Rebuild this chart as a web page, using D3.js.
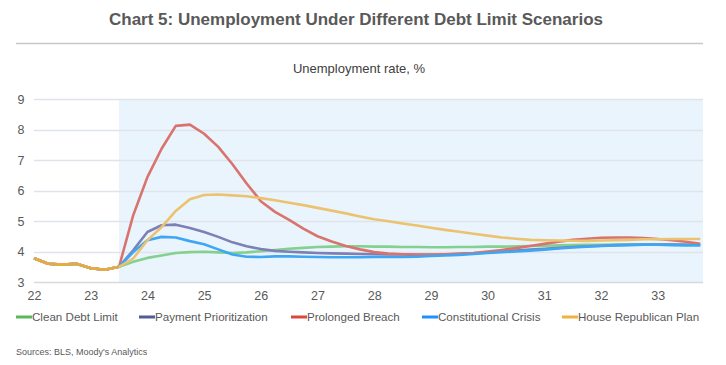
<!DOCTYPE html>
<html>
<head>
<meta charset="utf-8">
<script src="https://cdn.jsdelivr.net/npm/d3@7"></script>
<style>
  body { margin: 0; background: #fff; }
  text { font-family: "Liberation Sans", Arial, sans-serif; }
</style>
</head>
<body>
<script>
// quarterly points, 2022Q1 .. 2033Q4, x value = year (yy) + quarter offset
var startYear = 22;
var yearTicks = [22, 23, 24, 25, 26, 27, 28, 29, 30, 31, 32, 33];
var yTicks = [3, 4, 5, 6, 7, 8, 9];
var forecastStart = 23.5;

// actuals 22Q1 .. 23Q3 (shared by all scenarios)
var actuals = [3.78, 3.6, 3.57, 3.6, 3.45, 3.4, 3.5];

// scenarios 23Q4 .. 33Q4
var cleanDebt = [3.66, 3.79, 3.87, 3.95, 3.98, 3.99, 3.97, 3.95, 3.97, 4.01, 4.05, 4.09, 4.12, 4.15, 4.16, 4.17, 4.17, 4.16, 4.16, 4.15, 4.15, 4.14, 4.14, 4.15, 4.15, 4.16, 4.16, 4.17, 4.18, 4.19, 4.2, 4.21, 4.22, 4.22, 4.23, 4.23, 4.23, 4.23, 4.23, 4.23, 4.23];
var paymentPrior = [4.04, 4.64, 4.86, 4.88, 4.77, 4.64, 4.48, 4.3, 4.17, 4.08, 4.02, 3.99, 3.97, 3.95, 3.94, 3.93, 3.92, 3.91, 3.9, 3.9, 3.89, 3.89, 3.9, 3.92, 3.94, 3.97, 4.0, 4.03, 4.06, 4.09, 4.12, 4.15, 4.17, 4.19, 4.21, 4.22, 4.23, 4.23, 4.23, 4.22, 4.22];
var prolongedBreach = [5.19, 6.44, 7.37, 8.12, 8.16, 7.86, 7.43, 6.86, 6.23, 5.65, 5.3, 5.04, 4.75, 4.5, 4.33, 4.18, 4.07, 3.98, 3.93, 3.91, 3.9, 3.9, 3.91, 3.93, 3.95, 4.0, 4.05, 4.11, 4.18, 4.25, 4.32, 4.38, 4.42, 4.45, 4.46, 4.46, 4.44, 4.41, 4.37, 4.32, 4.25];
var constCrisis = [3.98, 4.37, 4.48, 4.46, 4.34, 4.24, 4.07, 3.9, 3.83, 3.82, 3.84, 3.84, 3.83, 3.82, 3.81, 3.81, 3.81, 3.82, 3.82, 3.82, 3.83, 3.85, 3.87, 3.89, 3.92, 3.95, 3.98, 4.0, 4.03, 4.06, 4.1, 4.13, 4.16, 4.18, 4.2, 4.21, 4.22, 4.22, 4.21, 4.2, 4.2];
var houseRep = [3.77, 4.37, 4.8, 5.33, 5.71, 5.85, 5.87, 5.84, 5.81, 5.75, 5.68, 5.6, 5.52, 5.43, 5.34, 5.25, 5.15, 5.06, 4.99, 4.92, 4.85, 4.78, 4.71, 4.65, 4.58, 4.52, 4.46, 4.42, 4.38, 4.37, 4.36, 4.35, 4.35, 4.36, 4.37, 4.38, 4.4, 4.4, 4.41, 4.41, 4.41];

var seriesNames = ["Clean Debt Limit", "Payment Prioritization", "Prolonged Breach", "Constitutional Crisis", "House Republican Plan"];
var seriesValues = [cleanDebt, paymentPrior, prolongedBreach, constCrisis, houseRep];
var lineColors = ["#84d08e", "#7d80b6", "#d8736e", "#3fa6f3", "#ebc26f"];
var legendColors = ["#5cb85c", "#525a9a", "#d9483b", "#1e90ff", "#f2b03c"];

var W = 726, H = 365;
var plot = { left: 34, right: 703, top: 99, bottom: 282 };

var svg = d3.select("body").append("svg")
  .attr("width", W)
  .attr("height", H);

// ~56.7px per year
var x = d3.scaleLinear()
  .domain([22, 22 + (plot.right - plot.left) / 56.7])
  .range([plot.left, plot.right]);

var y = d3.scaleLinear()
  .domain([3, 9])
  .range([plot.bottom, plot.top]);

// title
svg.append("text")
  .attr("x", 356).attr("y", 25)
  .attr("text-anchor", "middle")
  .attr("font-size", 17).attr("font-weight", "bold")
  .attr("fill", "#595959")
  .text("Chart 5: Unemployment Under Different Debt Limit Scenarios");

svg.append("line")
  .attr("x1", 16).attr("x2", 703)
  .attr("y1", 43.5).attr("y2", 43.5)
  .attr("stroke", "#c8c8c8").attr("stroke-width", 1.5);

svg.append("text")
  .attr("x", 359).attr("y", 73)
  .attr("text-anchor", "middle")
  .attr("font-size", 13)
  .attr("fill", "#404040")
  .text("Unemployment rate, %");

// forecast shading
svg.append("rect")
  .attr("x", x(forecastStart)).attr("y", plot.top)
  .attr("width", plot.right - x(forecastStart))
  .attr("height", plot.bottom - plot.top)
  .attr("fill", "#eaf4fd");

// grid
svg.append("g").selectAll("line")
  .data(yTicks)
  .join("line")
  .attr("x1", plot.left).attr("x2", plot.right)
  .attr("y1", function(d) { return Math.round(y(d)) + 0.5; })
  .attr("y2", function(d) { return Math.round(y(d)) + 0.5; })
  .attr("stroke", function(d) { return d == 3 ? "#d6d9dd" : "#dfe4ea"; })
  .attr("stroke-width", 1.3);

// y labels
svg.append("g").selectAll("text")
  .data(yTicks)
  .join("text")
  .attr("x", 21).attr("y", function(d) { return y(d) + 4.5; })
  .attr("text-anchor", "middle")
  .attr("font-size", 12.5)
  .attr("fill", "#595959")
  .text(function(d) { return d; });

// x labels
var xAxis = d3.axisBottom(x)
  .tickValues(yearTicks)
  .tickSize(0)
  .tickPadding(9)
  .tickFormat(function(d) { return d; });

var gx = svg.append("g")
  .attr("transform", "translate(0," + plot.bottom + ")")
  .call(xAxis);
gx.select(".domain").remove();
gx.selectAll("text")
  .attr("font-family", "Liberation Sans, Arial, sans-serif")
  .attr("font-size", 12.5)
  .attr("fill", "#595959");

// lines (straight segments between quarters, like the original)
var line = d3.line()
  .x(function(d) { return x(d.x); })
  .y(function(d) { return y(d.y); });

seriesValues.forEach(function(vals, i) {
  var pts = actuals.concat(vals).map(function(v, k) {
    return { x: startYear + k / 4, y: v };
  });
  svg.append("path")
    .datum(pts)
    .attr("d", line)
    .attr("fill", "none")
    .attr("stroke", lineColors[i])
    .attr("stroke-width", 2.6)
    .attr("stroke-linejoin", "round");
});

// overlapping actuals read as a stronger orange
svg.append("path")
  .datum(actuals.map(function(v, k) { return { x: startYear + k / 4, y: v }; }))
  .attr("d", line)
  .attr("fill", "none")
  .attr("stroke", "#e9a93e")
  .attr("stroke-width", 2.6)
  .attr("stroke-linejoin", "round");

// legend
var legendX = [16, 139, 291, 422, 562];
var lg = svg.append("g").selectAll("g")
  .data(seriesNames)
  .join("g")
  .attr("transform", function(d, i) { return "translate(" + legendX[i] + ",317)"; });

lg.append("line")
  .attr("x1", 0).attr("x2", 16)
  .attr("stroke", function(d, i) { return legendColors[i]; })
  .attr("stroke-width", 3);

lg.append("text")
  .attr("x", 16).attr("y", 4.2)
  .attr("font-size", 11.6)
  .attr("fill", "#595959")
  .text(function(d) { return d; });

svg.append("text")
  .attr("x", 16).attr("y", 355)
  .attr("font-size", 9)
  .attr("fill", "#595959")
  .text("Sources: BLS, Moody's Analytics");
</script>
</body>
</html>
